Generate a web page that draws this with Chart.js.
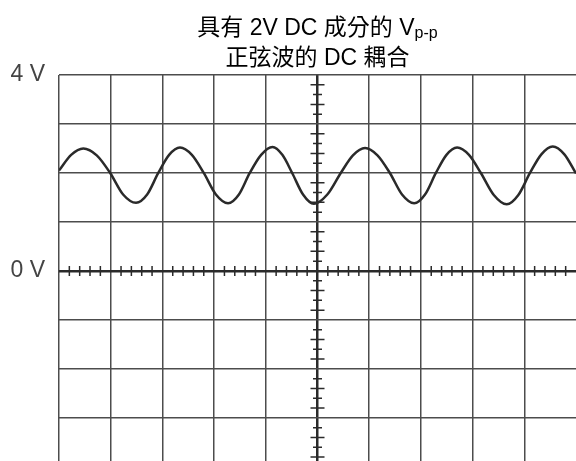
<!DOCTYPE html>
<html>
<head>
<meta charset="utf-8">
<script src="https://cdn.jsdelivr.net/npm/chart.js@4"></script>
<style>
  html, body { margin: 0; padding: 0; background: #fff; }
  #wrap { position: relative; width: 576px; height: 461px; }
  #title { position: absolute; left: 59px; width: 517px; top: 12px; text-align: center;
           font: 23px/30px "Liberation Sans", Arial, "Noto Sans CJK TC", sans-serif; color: #000; }
  #title sub { font-size: 16px; vertical-align: -3px; line-height: 0; }
  canvas { display: block; }
</style>
</head>
<body>
<div id="wrap">
  <canvas id="scope" width="576" height="461"></canvas>
  <div id="title">具有 2V DC 成分的 V<sub>p-p</sub><br>正弦波的 DC 耦合</div>
</div>
<script>
// trace: x in divisions, y in volts
const waveX = [0, 0.235, 0.47, 0.73, 0.99, 1.24, 1.49, 1.705, 1.92, 2.13, 2.34, 2.57, 2.80,
               3.035, 3.27, 3.48, 3.69, 3.91, 4.13, 4.32, 4.51, 4.72, 4.93, 5.19, 5.45,
               5.685, 5.92, 6.16, 6.40, 6.635, 6.87, 7.08, 7.29, 7.495, 7.70, 7.93, 8.16,
               8.41, 8.66, 8.885, 9.11, 9.33, 9.55, 9.775, 10.0];
const waveY = [2.05, 2.37, 2.50, 2.36, 2.0, 1.56, 1.39, 1.56, 2.0, 2.37, 2.52, 2.37, 2.0,
               1.56, 1.38, 1.56, 2.0, 2.37, 2.53, 2.37, 2.0, 1.56, 1.37, 1.56, 2.0,
               2.36, 2.51, 2.36, 2.0, 1.56, 1.38, 1.56, 2.0, 2.37, 2.52, 2.37, 2.0,
               1.55, 1.36, 1.55, 2.0, 2.38, 2.54, 2.38, 1.99];
const yTickLabels = { 4: "4 V", 0: "0 V" };
const xRange = [0, 10];
const yRange = [-3.88, 4];
const centerDiv = 5, zeroVolt = 0, minorStep = 0.2;

const FONT = '"Liberation Sans", Arial, "Noto Sans CJK TC", sans-serif';
const GRID = "#4c4c4c", AXIS = "#2a2a2a";

const minorTicks = {
  id: "minorTicks",
  beforeDatasetsDraw(chart) {
    const { ctx, scales: { x, y } } = chart;
    const cx = x.getPixelForValue(centerDiv), cy = y.getPixelForValue(zeroVolt);
    ctx.save();
    ctx.strokeStyle = AXIS;
    ctx.lineWidth = 1.5;
    ctx.beginPath();
    for (let i = Math.ceil(x.min / minorStep); i * minorStep <= x.max + 1e-9; i++) {
      if (i % 5 === 0) continue;
      const px = x.getPixelForValue(i * minorStep);
      ctx.moveTo(px, cy - 5); ctx.lineTo(px, cy + 5);
    }
    for (let j = Math.ceil(y.min / minorStep); j * minorStep <= y.max + 1e-9; j++) {
      const k = Math.abs(j) % 5;
      if (k === 0) continue;
      const py = y.getPixelForValue(j * minorStep);
      const half = k % 2 === 0 ? 7 : 4.5;
      ctx.moveTo(cx - half, py); ctx.lineTo(cx + half, py);
    }
    ctx.stroke();
    ctx.restore();
  }
};

new Chart(document.getElementById("scope"), {
  type: "line",
  data: {
    datasets: [{
      data: waveX.map((x, i) => ({ x, y: waveY[i] })),
      borderColor: "#2a2a2a", borderWidth: 2.5, pointRadius: 0,
      cubicInterpolationMode: "monotone", fill: false,
    }],
  },
  options: {
    responsive: false, animation: false, devicePixelRatio: 1,
    layout: { padding: { top: 75, left: 0, right: 0, bottom: 0 } },
    plugins: { legend: { display: false }, title: { display: false }, tooltip: { enabled: false } },
    scales: {
      x: {
        type: "linear", min: xRange[0], max: xRange[1],
        ticks: { display: false, stepSize: 1 },
        border: { display: false },
        grid: {
          drawTicks: false,
          color: c => c.tick && c.tick.value === xRange[1] ? "rgba(0,0,0,0)" : (c.tick && c.tick.value === centerDiv ? AXIS : GRID),
          lineWidth: c => c.tick && c.tick.value === centerDiv ? 2.5 : 1.5,
        },
        afterFit: s => { s.height = 0; },
      },
      y: {
        min: yRange[0], max: yRange[1],
        ticks: {
          stepSize: 1, includeBounds: false, padding: 14, color: "#444",
          font: { family: FONT, size: 23 },
          callback: v => yTickLabels[v] ?? "",
        },
        border: { display: false },
        grid: {
          drawTicks: false,
          color: c => c.tick && c.tick.value === zeroVolt ? AXIS : GRID,
          lineWidth: c => c.tick && c.tick.value === zeroVolt ? 2.5 : 1.5,
        },
        afterFit: s => { s.width = 59; s.paddingTop = 0; s.paddingBottom = 0; },
      },
    },
  },
  plugins: [minorTicks],
});
</script>
</body>
</html>
